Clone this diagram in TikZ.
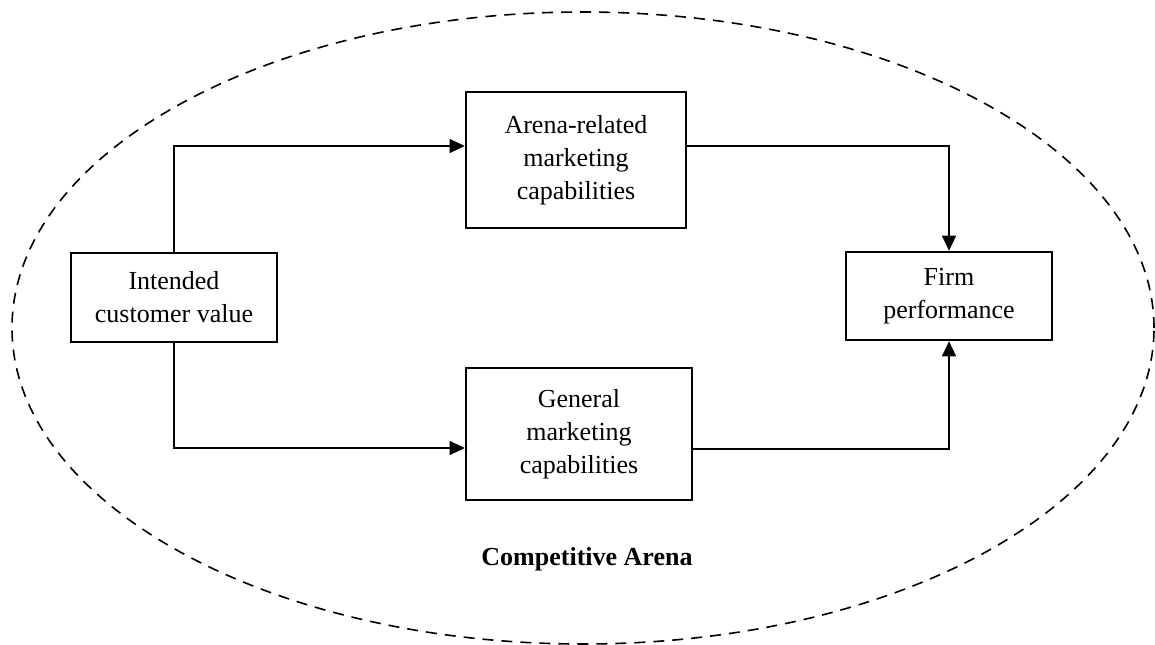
\documentclass[tikz,border=0pt]{standalone}
\usepackage{fontspec}
\setmainfont{Liberation Serif}
\usetikzlibrary{arrows.meta}

\tikzset{
  capbox/.style={draw, line width=1.3pt, align=center, inner sep=0pt,
    font=\fontsize{13}{16.5}\selectfont},
  link/.style={line width=0.6pt, -{Triangle[length=7.5pt,width=7pt]}},
  arena/.style={dash pattern=on 5.5pt off 4pt, line width=0.8pt}
}

\begin{document}
\begin{tikzpicture}[x=0.5pt,y=-0.5pt]
  \useasboundingbox (0,0) rectangle (1155,644);

  % Competitive arena
  \draw[arena] (583,328) ellipse [x radius=285.5pt, y radius=158pt];
  \node[font=\bfseries\fontsize{13}{16}\selectfont] (arenalbl) at (587,559) {Competitive Arena};

  % Boxes
  \node[capbox, minimum width=103pt, minimum height=44.5pt] (icv) at (174,297.5) {Intended\\customer value};
  \node[capbox, minimum width=110pt, minimum height=68pt] (arc) at (576,160) {Arena-related\\marketing\\capabilities};
  \node[capbox, minimum width=113pt, minimum height=66pt] (gmc) at (579,434) {General\\marketing\\capabilities};
  \node[capbox, minimum width=103pt, minimum height=44pt] (fp) at (949,296) {Firm\\performance};

  % Links
  \draw[link] (icv.north) |- ([yshift=7pt]arc.west);
  \draw[link] (icv.south) |- ([yshift=-7pt]gmc.west);
  \draw[link] ([yshift=7pt]arc.east) -| (fp.north);
  \draw[link] ([yshift=-7.5pt]gmc.east) -| (fp.south);
\end{tikzpicture}
\end{document}
